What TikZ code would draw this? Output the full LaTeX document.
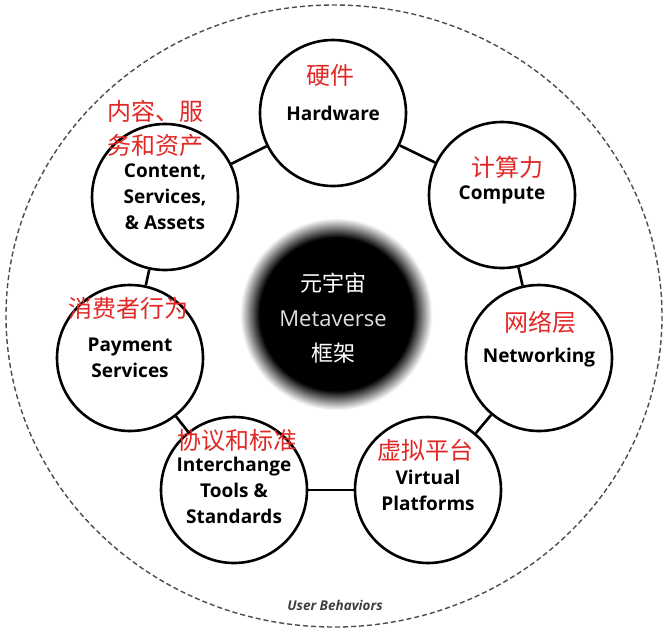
\documentclass[tikz,border=0pt]{standalone}
\usepackage{fontspec}
\setmainfont{Open Sans}
\newfontfamily\cjk{Noto Sans CJK SC}
\usetikzlibrary{positioning}
\definecolor{zhred}{RGB}{226,40,38}
\pgfdeclareradialshading{blurdisc}{\pgfpoint{0bp}{0bp}}{color(0bp)=(black); color(19.5bp)=(black); color(24.5bp)=(white); color(50bp)=(white)}

\begin{document}
\begin{tikzpicture}[x=1pt, y=-1pt,
    ring/.style={circle, draw, line width=2.6pt, fill=white, minimum size=146pt, inner sep=0pt, align=center, font=\fontsize{19}{26}\selectfont\bfseries},
    zh/.style={text=zhred, font=\fontsize{24}{34}\selectfont\cjk, align=center, inner sep=0pt},
    link/.style={line width=2.6pt}]
    \useasboundingbox (0,0) rectangle (670,633);
    \fill[white] (0,0) rectangle (670,633);
    \draw[gray!60!black, line width=1.4pt, dash pattern=on 5pt off 3pt] (334,316) ellipse [x radius=328, y radius=311];
    % dark centre
    \shade[shading=blurdisc] (336,314) circle (98);
    \node[align=center, text=white, font=\fontsize{22}{35}\selectfont, inner sep=0pt] (core) at (333,318)
        {{\cjk 元宇宙}\\{\color{gray!25}Metaverse}\\{\cjk 框架}};
    % layers
    \node[ring] (hw) at (333,113) {Hardware};
    \node[ring] (cp) at (502,195) {Compute};
    \node[ring] (nw) at (539,358) {Networking};
    \node[ring] (vp) at (428,490) {Virtual\\Platforms};
    \node[ring] (it) at (234,490) {Interchange\\Tools \&\\Standards};
    \node[ring] (pm) at (130,358) {Payment\\Services};
    \node[ring] (cs) at (165,197) {Content,\\Services,\\\& Assets};
    \foreach \a/\b in {hw/cp, cp/nw, nw/vp, vp/it, it/pm, pm/cs, cs/hw} \draw[link] (\a) -- (\b);
    % chinese labels
    \node[zh] (hwzh) at (330,75) {硬件};
    \node[zh] (cszh) at (155,128) {内容、服\\务和资产};
    \node[zh] (cpzh) at (507,167) {计算力};
    \node[zh] (nwzh) at (540,322) {网络层};
    \node[zh] (vpzh) at (425,450) {虚拟平台};
    \node[zh] (itzh) at (237,440) {协议和标准};
    \node[zh] (pmzh) at (128,308) {消费者行为};
    \node[font=\fontsize{13.5}{13.5}\selectfont\bfseries\itshape, text=black!75] (ub) at (335,605) {User Behaviors};
\end{tikzpicture}
\end{document}
